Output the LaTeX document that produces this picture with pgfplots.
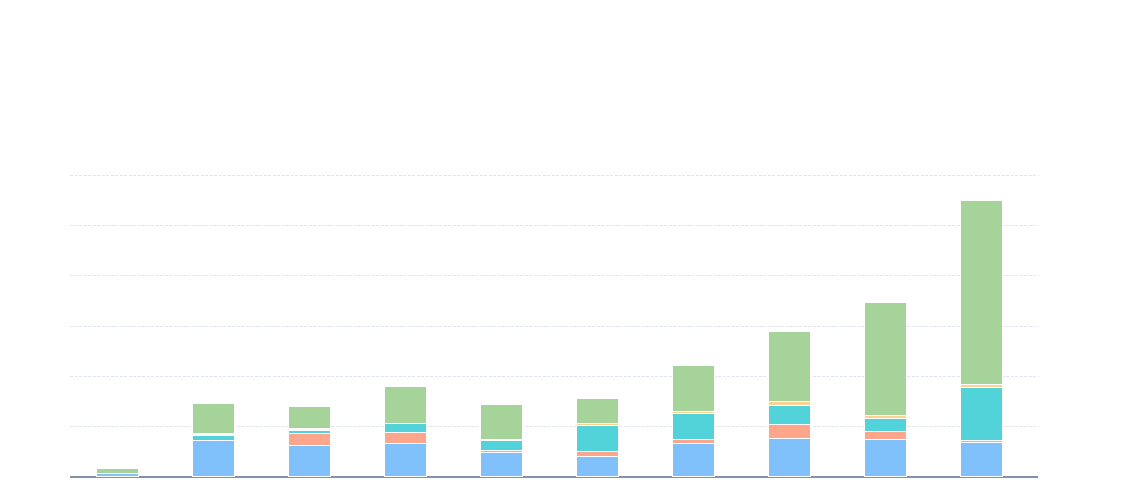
\documentclass[border=0pt]{standalone}
\usepackage{pgfplots}
\usepackage{pgfplotstable}
\pgfplotsset{compat=1.18}

\definecolor{sBlue}{RGB}{128,193,252}
\definecolor{sSalmon}{RGB}{253,166,140}
\definecolor{sCyan}{RGB}{82,211,217}
\definecolor{sYellow}{RGB}{250,211,144}
\definecolor{sGreen}{RGB}{165,211,153}
\definecolor{gridc}{RGB}{224,230,237}
\definecolor{axisc}{RGB}{128,146,170}

% axis line above the bars, grid below them
\pgfplotsset{
  layers/barsfirst/.define layer set={axis background,axis grid,main,axis ticks,axis lines,axis tick labels,axis descriptions,axis foreground}{},
}

% 1 px of the reference = 0.5pt
\pgfplotstableread{
x blue salmon cyan yellow green
0 7    0    0     0   10.7
1 72.5 0    11    2   60.8
2 62.6 23.8 7     3.4 43.5
3 67   21.5 17.9  0   73.7
4 49.1 3.6  20.9  1   70.2
5 41.1 9.9  51.7  4   49.5
6 67   7.9  51.7  4   91.2
7 76.5 27.8 38.2  7.6 139.3
8 74.5 15.9 25.8  6   224.7
9 68.6 3.6  106.1 5.6 365.8
}\data

\begin{document}
\begin{tikzpicture}
  \begin{axis}[
    set layers=barsfirst,
    at={(35pt,10.5pt)}, anchor=south west,
    scale only axis,
    width=484pt, height=151pt,
    ybar stacked,
    bar width=21pt,
    xmin=-0.495, xmax=9.59,
    ymin=0, ymax=600,
    axis lines=left,
    x axis line style={axisc, line width=0.55pt, -},
    y axis line style={draw=none},
    xtick=\empty,
    ytick={100,200,300,400,500,600},
    yticklabels={},
    major tick length=0pt,
    ymajorgrids=true,
    grid style={gridc, line width=0.4pt, dash pattern=on 1.5pt off 0.75pt},
    every axis plot/.append style={draw=white, line width=0.6pt},
  ]
    \addplot[fill=sBlue]   table[x=x, y=blue]   {\data};
    \addplot[fill=sSalmon] table[x=x, y=salmon] {\data};
    \addplot[fill=sCyan]   table[x=x, y=cyan]   {\data};
    \addplot[fill=sYellow] table[x=x, y=yellow] {\data};
    \addplot[fill=sGreen]  table[x=x, y=green]  {\data};
  \end{axis}
  \path[use as bounding box] (0,0) rectangle (570.5pt,249pt);
\end{tikzpicture}
\end{document}
